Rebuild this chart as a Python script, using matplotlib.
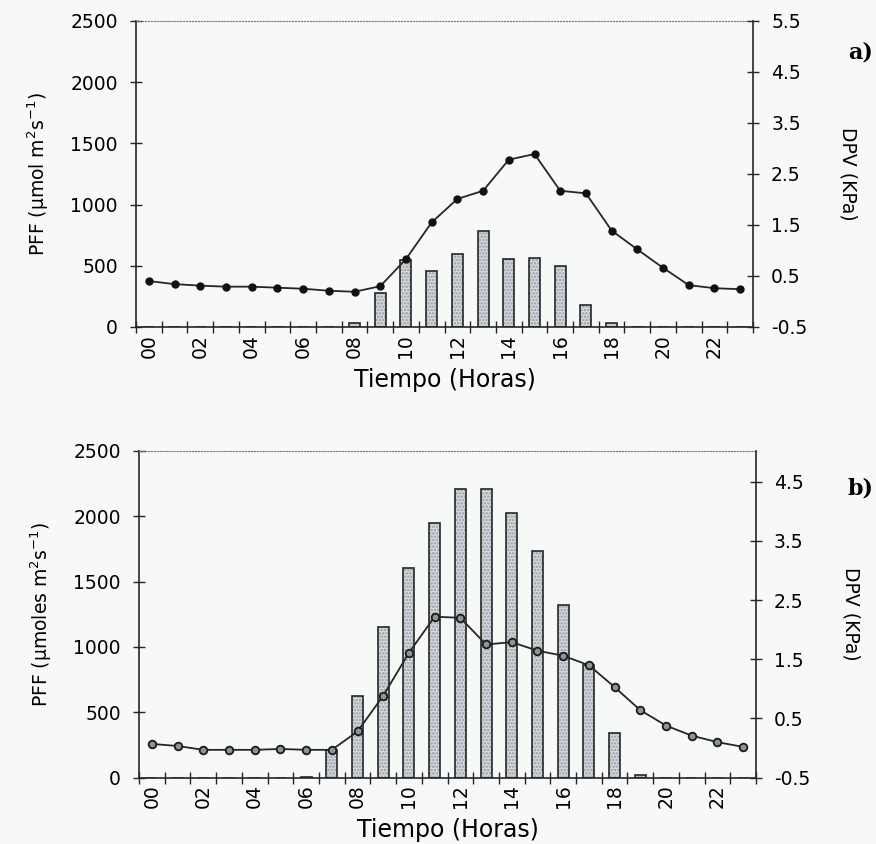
import numpy as np
from matplotlib import pyplot as plt

plt.rcParams['font.family'] = ['DejaVu Sans']
plt.rcParams['hatch.linewidth'] = 1.2

horas = np.arange(24)
etiquetas_x = ["%02d" % h for h in range(0, 24, 2)]

# Panel a)
pff_a = [0, 0, 0, 0, 0, 0, 0, 3, 30, 275, 545, 457, 596, 784, 558, 567,
         498, 177, 35, 0, 0, 0, 0, 0]
dpv_a = [0.40, 0.34, 0.31, 0.29, 0.29, 0.27, 0.25, 0.21, 0.19, 0.30, 0.83,
         1.55, 2.01, 2.17, 2.78, 2.89, 2.17, 2.12, 1.39, 1.02, 0.66, 0.32,
         0.26, 0.24]

# Panel b)
pff_b = [0, 0, 0, 0, 0, 0, 3, 212, 625, 1155, 1602, 1946, 2206, 2206, 2028,
         1732, 1321, 860, 344, 20, 0, 0, 0, 0]
dpv_b = [0.07, 0.035, -0.03, -0.03, -0.03, -0.015, -0.03, -0.03, 0.28, 0.885,
         1.61, 2.22, 2.20, 1.75, 1.79, 1.645, 1.56, 1.40, 1.03, 0.64, 0.38,
         0.21, 0.10, 0.02]

fondo = '#f7f8f8'
oscuro = '#262626'
tam = 13.5

fig = plt.figure(figsize=(8.76, 8.44), dpi=100, facecolor=fondo)


def panel(rect, pff, dpv, ylabel, dpv_lim, dpv_ticks, marcador, letra, letra_y):
    ax = fig.add_axes(rect, facecolor=fondo)
    x = horas + 0.5
    # barras con punteado gris y contorno negro
    ax.bar(x, pff, width=0.43, color='#d3d9e2', hatch='.....',
           edgecolor='#9c9c9c', linewidth=0, zorder=2)
    ax.bar(x, pff, width=0.43, fill=False, edgecolor=oscuro, linewidth=1.2,
           zorder=3)
    ax.set_xlim(0, 24)
    ax.set_ylim(0, 2500)
    ax.set_yticks(range(0, 2501, 500))
    ax.set_xticks(range(25))
    ax.set_xticklabels([])
    ax.set_xticks(np.arange(0, 24, 2) + 0.5, minor=True)
    ax.set_xticklabels(etiquetas_x, minor=True, rotation=90, fontsize=tam)
    ax.tick_params(axis='x', which='major', direction='inout', length=8,
                   width=1, color=oscuro)
    ax.tick_params(axis='x', which='minor', length=0, pad=5)
    ax.tick_params(axis='y', direction='inout', length=8, width=1,
                   color=oscuro, labelsize=tam, pad=9)
    ax.set_xlabel('Tiempo (Horas)', fontsize=17, labelpad=7)
    ax.set_ylabel(ylabel, fontsize=13.5, labelpad=14)
    for s in ['left', 'bottom']:
        ax.spines[s].set_color(oscuro)
        ax.spines[s].set_linewidth(1.2)
    ax.spines['right'].set_visible(False)
    ax.spines['top'].set_linestyle(':')
    ax.spines['top'].set_color('#777777')
    ax.spines['top'].set_linewidth(0.8)

    ax2 = ax.twinx()
    ax2.plot(x, dpv, color=oscuro, linewidth=1.3, zorder=4, **marcador)
    ax2.set_ylim(*dpv_lim)
    ax2.set_yticks(dpv_ticks)
    ax2.set_yticklabels(["%.1f" % v for v in dpv_ticks])
    ax2.tick_params(axis='y', direction='inout', length=8, width=1,
                    color=oscuro, labelsize=tam, pad=9)
    for s in ['left', 'bottom', 'top']:
        ax2.spines[s].set_visible(False)
    ax2.spines['right'].set_color(oscuro)
    ax2.spines['right'].set_linewidth(1.2)
    ax2.set_ylabel('DPV (KPa)', fontsize=13.5, rotation=270, labelpad=36)
    fig.text(0.997, letra_y, letra, fontsize=16, family='DejaVu Serif',
             fontweight='bold', ha='right', va='center')
    return ax, ax2


panel([0.1553, 0.6126, 0.7043, 0.3626], pff_a, dpv_a,
      'PFF (µmol m$^{2}$s$^{-1}$)', (-0.5, 5.5),
      [-0.5, 0.5, 1.5, 2.5, 3.5, 4.5, 5.5],
      dict(marker='o', markersize=5, markerfacecolor='#111111',
           markeredgecolor='#111111'),
      'a)', 1 - 53 / 844)

panel([0.1587, 0.0786, 0.7043, 0.3871], pff_b, dpv_b,
      'PFF (µmoles m$^{2}$s$^{-1}$)', (-0.5, 5.02),
      [-0.5, 0.5, 1.5, 2.5, 3.5, 4.5],
      dict(marker='o', markersize=5.5, markerfacecolor='#8d9494',
           markeredgecolor='#1a1a1a', markeredgewidth=1.3),
      'b)', 1 - 489 / 844)

fig.savefig('out.png', dpi=100, facecolor=fondo)
